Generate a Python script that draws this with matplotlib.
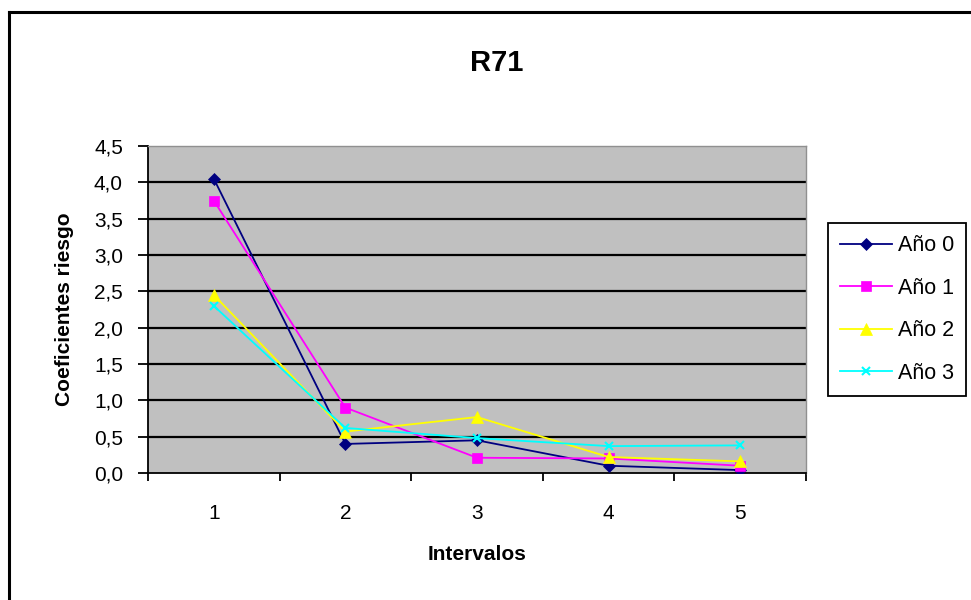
import numpy as np
from matplotlib import pyplot as plt
from matplotlib.lines import Line2D

plt.rcParams['font.family'] = ['Liberation Sans', 'DejaVu Sans']

# Coeficientes de riesgo por intervalo
intervalos = [1, 2, 3, 4, 5]
anio_0 = [4.05, 0.40, 0.45, 0.10, 0.04]
anio_1 = [3.75, 0.90, 0.21, 0.20, 0.10]
anio_2 = [2.45, 0.57, 0.77, 0.22, 0.16]
anio_3 = [2.30, 0.62, 0.48, 0.37, 0.38]
nombres = ['Año 0', 'Año 1', 'Año 2', 'Año 3']
y_ticks = [0.0, 0.5, 1.0, 1.5, 2.0, 2.5, 3.0, 3.5, 4.0, 4.5]

colores = ['#000080', '#FF00FF', '#FFFF00', '#00FFFF']
marcadores = ['D', 's', '^', 'x']
tamanos = [6, 7, 8, 6]

fig = plt.figure(figsize=(9.71, 6), dpi=100)
ax = fig.add_axes([148 / 971, 1 - 473 / 600, 658 / 971, 327 / 600])
ax.set_facecolor('#C0C0C0')

# borde del area del grafico
fig.add_artist(Line2D([9 / 971, 1.01], [1 - 12 / 600] * 2, color='black', lw=2.2,
                      transform=fig.transFigure))
fig.add_artist(Line2D([9 / 971] * 2, [-0.01, 1 - 12 / 600], color='black', lw=2.2,
                      transform=fig.transFigure))

ax.set_xlim(0.5, 5.5)
ax.set_ylim(0, 4.5)

# lineas de division horizontales
for t in y_ticks[1:-1]:
    ax.axhline(t, color='black', lw=1.6, zorder=1)

series = [anio_0, anio_1, anio_2, anio_3]
for vals, nom, c, m, s in zip(series, nombres, colores, marcadores, tamanos):
    ax.plot(intervalos, vals, color=c, marker=m, markersize=s, lw=1.3,
            markeredgewidth=1.5 if m == 'x' else 0.5, markeredgecolor=c,
            label=nom, zorder=3)

ax.set_yticks(y_ticks)
ax.set_yticklabels([('%.1f' % t).replace('.', ',') for t in y_ticks])
ax.set_xticks(intervalos)
ax.set_xticks(np.arange(0.5, 5.6, 1), minor=True)
ax.tick_params(axis='x', which='major', length=0, pad=22, labelsize=15)
ax.tick_params(axis='x', which='minor', length=6, width=1.3, direction='out')
ax.tick_params(axis='y', length=7, width=1.3, direction='out', pad=11, labelsize=15)

for lado in ['left', 'bottom']:
    ax.spines[lado].set_color('black')
    ax.spines[lado].set_linewidth(1.3)
for lado in ['top', 'right']:
    ax.spines[lado].set_color('#909090')
    ax.spines[lado].set_linewidth(1.0)

fig.text(497 / 971, 1 - 63 / 600, 'R71', ha='center', va='center',
         fontsize=21, fontweight='bold')
ax.set_xlabel('Intervalos', fontsize=15, fontweight='bold', labelpad=16)
ax.set_ylabel('Coeficientes riesgo', fontsize=15, fontweight='bold', labelpad=14)

leg = ax.legend(loc='center left', bbox_to_anchor=(1.0 + 22 / 658, 0.5),
                frameon=True, fancybox=False, edgecolor='black', framealpha=1,
                fontsize=15.5, handlelength=2.4, labelspacing=1.0, borderpad=0.55,
                handletextpad=0.3, borderaxespad=0)
leg.get_frame().set_linewidth(1.3)

fig.savefig('out.png', dpi=100, facecolor='white')
